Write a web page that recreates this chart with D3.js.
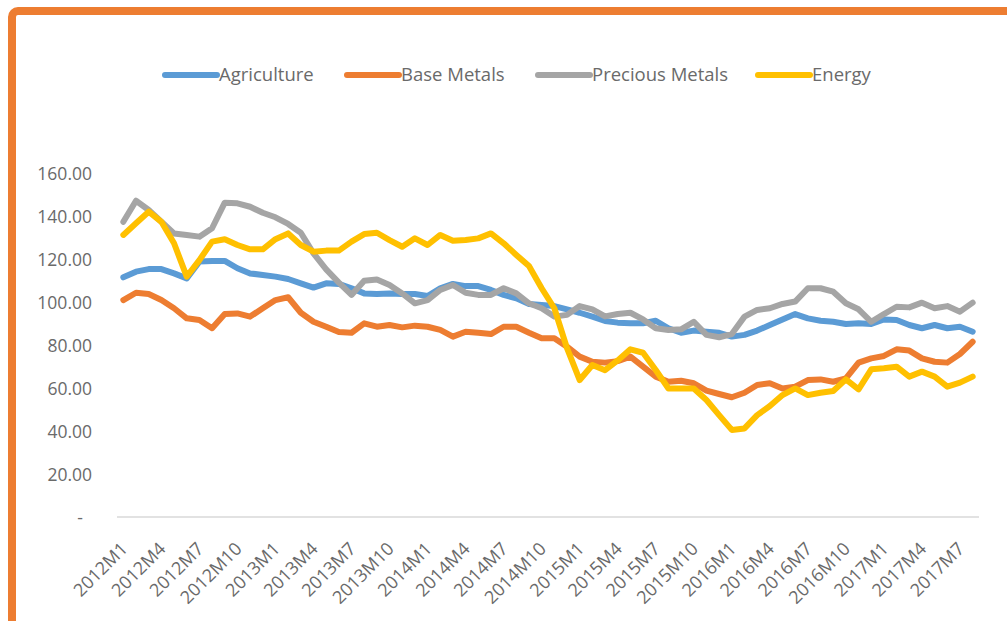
<!DOCTYPE html>
<html>
<head>
<meta charset="utf-8">
<script src="https://cdn.jsdelivr.net/npm/d3@7"></script>
<style>
  html, body { margin: 0; padding: 0; background: #fff; }
  svg { display: block; font-family: 'Open Sans', sans-serif; }
</style>
</head>
<body>
<div id="vis"></div>
<script>
// months 2012M1 .. 2017M8
var months = [];
for (var yr = 2012; yr <= 2017; yr++) {
  for (var m = 1; m <= 12; m++) {
    if (yr == 2017 && m > 8) break;
    months.push(yr + 'M' + m);
  }
}

var agriculture = [
  111.5, 114.1, 115.3, 115.3, 113.3, 111.0, 118.8, 119.1, 119.1, 115.7, 113.3, 112.6,
  111.8, 110.7, 108.7, 106.7, 108.7, 108.4, 106.4, 104.0, 103.7, 104.0, 103.7, 103.7,
  102.8, 106.4, 108.4, 107.4, 107.4, 105.6, 103.3, 101.7, 99.1, 98.6, 98.1, 96.6,
  95.0, 93.2, 91.2, 90.4, 90.1, 90.1, 91.3, 87.8, 85.7, 86.7, 86.2, 85.7,
  83.9, 84.7, 86.7, 89.3, 91.9, 94.4, 92.4, 91.3, 90.8, 89.8, 90.1, 89.8,
  91.9, 91.6, 89.3, 87.8, 89.3, 87.8, 88.5, 86.2
];
var baseMetals = [
  100.9, 104.3, 103.7, 100.9, 97.1, 92.4, 91.6, 87.8, 94.4, 94.7, 93.2, 97.1,
  100.9, 102.2, 95.0, 90.8, 88.5, 86.0, 85.7, 90.1, 88.5, 89.3, 88.2, 89.0,
  88.5, 87.0, 83.9, 86.2, 85.7, 85.1, 88.5, 88.5, 85.7, 83.1, 83.1, 79.2,
  74.6, 72.2, 71.8, 72.5, 74.6, 69.9, 65.3, 62.9, 63.4, 62.2, 58.8, 57.2,
  55.7, 57.8, 61.4, 62.2, 59.8, 60.6, 63.7, 64.0, 62.9, 64.5, 71.8, 73.8,
  74.9, 78.0, 77.4, 73.8, 72.2, 71.8, 75.8, 81.5
];
var preciousMetals = [
  137.3, 147.1, 142.8, 137.3, 131.9, 131.2, 130.4, 134.3, 146.2, 145.9, 144.3, 141.5,
  139.4, 136.3, 132.2, 122.6, 115.2, 109.0, 103.3, 109.9, 110.5, 107.9, 104.0, 99.4,
  100.9, 105.6, 107.9, 104.3, 103.3, 103.3, 106.4, 104.0, 99.4, 97.1, 93.2, 94.0,
  98.1, 96.6, 93.3, 94.4, 95.0, 91.9, 87.8, 87.0, 87.3, 90.8, 84.7, 83.6,
  85.1, 93.2, 96.3, 97.1, 99.1, 100.2, 106.4, 106.4, 104.8, 99.4, 96.6, 90.8,
  94.4, 97.8, 97.5, 99.7, 97.1, 98.1, 95.5, 99.7
];
var energy = [
  131.2, 136.6, 142.0, 137.3, 127.3, 111.8, 119.5, 128.1, 129.2, 126.5, 124.5, 124.5,
  129.2, 131.9, 126.5, 123.4, 123.9, 123.9, 128.1, 131.6, 132.2, 128.8, 125.7, 129.6,
  126.5, 131.2, 128.5, 128.8, 129.6, 131.9, 127.3, 121.9, 116.7, 106.4, 97.1, 78.5,
  63.7, 70.7, 68.3, 72.8, 78.0, 76.4, 68.4, 59.8, 59.8, 59.8, 54.4, 47.4,
  40.5, 41.2, 47.4, 51.6, 56.7, 59.8, 56.7, 57.8, 58.6, 64.0, 59.4, 68.7,
  69.2, 69.9, 65.3, 67.6, 65.3, 60.6, 62.5, 65.3
];

var seriesNames = ['Agriculture', 'Base Metals', 'Precious Metals', 'Energy'];
var seriesColors = ['#5B9BD5', '#ED7D31', '#A5A5A5', '#FFC000'];
var seriesValues = [agriculture, baseMetals, preciousMetals, energy];
var yTicks = [0, 20, 40, 60, 80, 100, 120, 140, 160];

var width = 1007;
var height = 621;
var textColor = '#6a6a6a';

var svg = d3.select('#vis').append('svg')
  .attr('width', width)
  .attr('height', height);

// orange frame of the surrounding box (only top/left visible in the crop)
svg.append('rect')
  .attr('x', 12).attr('y', 11)
  .attr('width', 1200).attr('height', 900)
  .attr('rx', 6)
  .style('fill', 'none')
  .style('stroke', '#ED7D31')
  .style('stroke-width', 8);

var x = d3.scalePoint()
  .domain(months)
  .range([117, 979])
  .padding(0.5);

var y = d3.scaleLinear()
  .domain([0, 160])
  .range([517, 173]);

// y axis labels
var yAxis = d3.axisLeft(y)
  .tickValues(yTicks)
  .tickSize(0)
  .tickPadding(0)
  .tickFormat(d => (d == 0 ? '-' : d3.format('.2f')(d)));

var yg = svg.append('g')
  .attr('transform', 'translate(92,0)')
  .call(yAxis);
yg.select('.domain').remove();
yg.selectAll('text')
  .style('font-family', "'Open Sans', sans-serif")
  .style('font-size', '17.5px')
  .style('fill', textColor)
  .attr('dy', '0.35em')
  .attr('x', d => (d == 0 ? -9 : 0));

// x axis
var xAxis = d3.axisBottom(x)
  .tickValues(months.filter((d, i) => i % 3 == 0))
  .tickSize(0)
  .tickPadding(0);

var xg = svg.append('g')
  .attr('transform', 'translate(0,517)')
  .call(xAxis);
xg.select('.domain')
  .attr('d', 'M117,0H979')
  .style('stroke', '#D9D9D9')
  .style('stroke-width', 1.5);
xg.selectAll('text')
  .style('font-family', "'Open Sans', sans-serif")
  .style('font-size', '18px')
  .style('fill', textColor)
  .attr('text-anchor', 'end')
  .attr('x', 0)
  .attr('y', 0)
  .attr('dy', 0)
  .attr('transform', 'translate(5,33) rotate(-45)');

// lines
var line = d3.line()
  .x((d, i) => x(months[i]))
  .y(d => y(d));

svg.selectAll('.series')
  .data(seriesValues)
  .enter()
  .append('path')
  .attr('class', 'series')
  .attr('d', d => line(d))
  .style('fill', 'none')
  .style('stroke', (d, i) => seriesColors[i])
  .style('stroke-width', 6)
  .style('stroke-linejoin', 'round')
  .style('stroke-linecap', 'round');

// legend
var legendX = [165, 347, 538, 758];
var legend = svg.selectAll('.legend')
  .data(seriesNames)
  .enter()
  .append('g')
  .attr('class', 'legend')
  .attr('transform', (d, i) => `translate(${legendX[i]},75)`);

legend.append('line')
  .attr('x1', 0).attr('x2', 52)
  .attr('y1', 0).attr('y2', 0)
  .style('stroke', (d, i) => seriesColors[i])
  .style('stroke-width', 6)
  .style('stroke-linecap', 'round');

legend.append('text')
  .attr('x', 54)
  .attr('y', 0)
  .attr('dy', '0.35em')
  .style('font-size', '18.5px')
  .style('fill', textColor)
  .text(d => d);
</script>
</body>
</html>
